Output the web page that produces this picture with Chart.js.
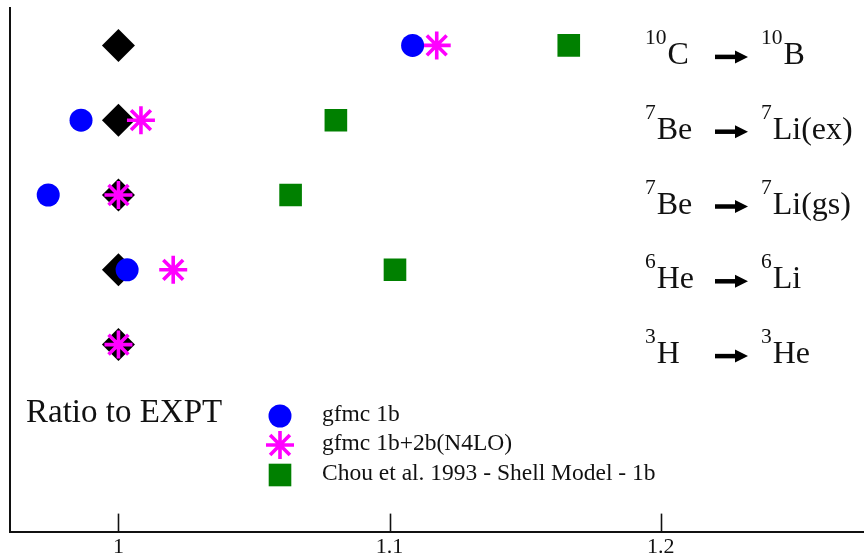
<!DOCTYPE html>
<html>
<head>
<meta charset="utf-8">
<script src="https://cdn.jsdelivr.net/npm/chart.js@4.4.1/dist/chart.umd.min.js"></script>
<style>
  html, body { margin: 0; padding: 0; background: #fff; }
  #wrap { width: 864px; height: 556px; }
</style>
</head>
<body>
<div id="wrap"><canvas id="ratioChart" width="864" height="556"></canvas></div>
<script>
// linhas do grafico (de cima para baixo), y = posicao da linha
const rows = [5, 4, 3, 2, 1];
const fromSup = ['10', '7', '7', '6', '3'];
const fromEl = ['C', 'Be', 'Be', 'He', 'H'];
const toSup = ['10', '7', '7', '6', '3'];
const toEl = ['B', 'Li(ex)', 'Li(gs)', 'Li', 'He'];

// razao em relacao ao experimento
const expt = [1.0, 1.0, 1.0, 1.0, 1.0];
const gfmc1b = [1.1085, 0.9862, 0.9741, 1.0032, null];
const gfmc1b2b = [1.1174, 1.0083, 1.0, 1.0202, 1.0];
const chou = [1.1661, 1.0802, 1.0635, 1.102, null];

const seriesNames = ['gfmc 1b', 'gfmc 1b+2b(N4LO)', 'Chou et al. 1993 - Shell Model - 1b'];
const xTicks = [1, 1.1, 1.2];
const boxTitle = 'Ratio to EXPT';

const SERIF = "'Liberation Serif', 'DejaVu Serif', serif";
Chart.defaults.font.family = SERIF;

const toPoints = (vals) => vals.map((v, i) => ({ x: v, y: rows[i] })).filter(p => p.x !== null);

// marcas de escala para dentro
const inwardTicks = {
    id: 'inwardTicks',
    afterDraw(chart) {
        const { ctx, chartArea, scales: { x } } = chart;
        ctx.save();
        ctx.strokeStyle = '#111';
        ctx.lineWidth = 1.6;
        xTicks.forEach(v => {
            const px = Math.round(x.getPixelForValue(v)) + 0.5;
            ctx.beginPath();
            ctx.moveTo(px, chartArea.bottom);
            ctx.lineTo(px, chartArea.bottom - 18);
            ctx.stroke();
        });
        ctx.restore();
    }
};

// rotulos das transicoes + legenda
const annotations = {
    id: 'annotations',
    afterDraw(chart) {
        const { ctx, scales: { y } } = chart;
        ctx.save();
        ctx.fillStyle = '#111';
        ctx.textBaseline = 'alphabetic';
        ctx.textAlign = 'left';

        rows.forEach((r, i) => {
            const base = y.getPixelForValue(r) + 18.5;
            let px = 645;
            ctx.font = '21.5px ' + SERIF;
            ctx.fillText(fromSup[i], px, base - 20);
            px += ctx.measureText(fromSup[i]).width + 1;
            ctx.font = '32px ' + SERIF;
            ctx.fillText(fromEl[i], px, base);

            // seta
            const ay = base - 7;
            ctx.beginPath();
            ctx.lineWidth = 4.5;
            ctx.strokeStyle = '#000';
            ctx.moveTo(715, ay);
            ctx.lineTo(738, ay);
            ctx.stroke();
            ctx.beginPath();
            ctx.fillStyle = '#000';
            ctx.moveTo(748, ay);
            ctx.lineTo(735, ay - 6.5);
            ctx.lineTo(735, ay + 6.5);
            ctx.closePath();
            ctx.fill();
            ctx.fillStyle = '#111';

            px = 761;
            ctx.font = '21.5px ' + SERIF;
            ctx.fillText(toSup[i], px, base - 20);
            px += ctx.measureText(toSup[i]).width + 1;
            ctx.font = '32px ' + SERIF;
            ctx.fillText(toEl[i], px, base);
        });

        ctx.font = '33px ' + SERIF;
        ctx.fillText(boxTitle, 26, 422);

        // legenda
        const legendY = [416, 445, 475];
        chart.data.datasets.slice(0, 3).forEach((ds, i) => {
            ctx.save();
            ctx.fillStyle = ds.backgroundColor;
            ctx.strokeStyle = ds.borderColor;
            ctx.lineWidth = ds.borderWidth;
            Chart.helpers.drawPoint(ctx, { pointStyle: ds.pointStyle, radius: ds.pointRadius, borderWidth: ds.borderWidth, rotation: 0 }, 280, legendY[i]);
            ctx.restore();
            ctx.font = '23.5px ' + SERIF;
            ctx.textBaseline = 'middle';
            ctx.fillText(seriesNames[i], 322, legendY[i] - 1);
        });
        ctx.restore();
    }
};

const ctxRatio = document.getElementById('ratioChart').getContext('2d');
const ratioChart = new Chart(ctxRatio, {
    type: 'scatter',
    data: {
        datasets: [
            { label: seriesNames[0], data: toPoints(gfmc1b), pointStyle: 'circle', pointRadius: 11.5, backgroundColor: '#0000FF', borderColor: '#0000FF', borderWidth: 0 },
            { label: seriesNames[1], data: toPoints(gfmc1b2b), pointStyle: 'star', pointRadius: 14, backgroundColor: '#FF00FF', borderColor: '#FF00FF', borderWidth: 3.6 },
            { label: seriesNames[2], data: toPoints(chou), pointStyle: 'rect', pointRadius: 16, backgroundColor: '#008000', borderColor: '#008000', borderWidth: 0 },
            { label: 'EXPT', data: toPoints(expt), pointStyle: 'rectRot', pointRadius: 16.5, backgroundColor: '#000', borderColor: '#000', borderWidth: 0 }
        ]
    },
    options: {
        responsive: false,
        animation: false,
        layout: { autoPadding: false, padding: { top: 8, left: 10, right: 0, bottom: -6 } },
        plugins: { legend: { display: false }, tooltip: { enabled: false } },
        elements: { point: { hoverRadius: 0 } },
        scales: {
            x: {
                type: 'linear',
                min: 0.96,
                max: 1.275,
                afterBuildTicks: (scale) => { scale.ticks = xTicks.map(v => ({ value: v })); },
                grid: { display: false, drawTicks: false },
                border: { display: true, color: '#111', width: 2 },
                ticks: { color: '#111', padding: 2, maxRotation: 0, autoSkip: false, font: { size: 22, family: SERIF }, callback: (v) => String(v) }
            },
            y: {
                type: 'linear',
                min: -1.5,
                max: 5.5,
                grid: { display: false, drawTicks: false },
                border: { display: true, color: '#111', width: 2 },
                ticks: { display: false }
            }
        }
    },
    plugins: [inwardTicks, annotations]
});
</script>
</body>
</html>
